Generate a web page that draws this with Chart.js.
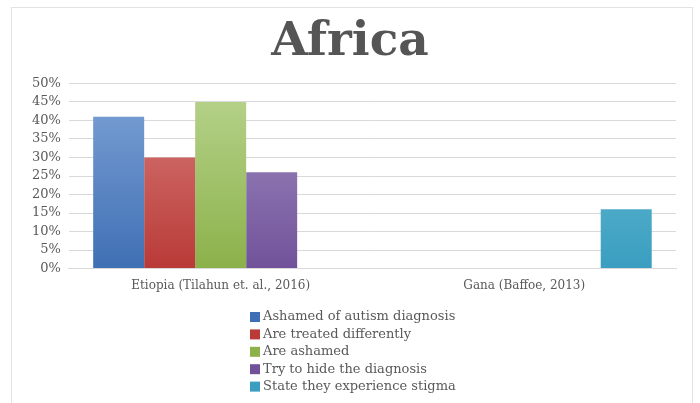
<!DOCTYPE html>
<html>
<head>
<meta charset="utf-8">
<script src="https://cdn.jsdelivr.net/npm/chart.js@4"></script>
<style>
  html, body { margin: 0; padding: 0; background: #fff; }
  #wrap { width: 700px; height: 403px; }
</style>
</head>
<body>
<div id="wrap"><canvas id="chart"></canvas></div>
<script>
const categories = ['Etiopia (Tilahun et. al., 2016)', 'Gana (Baffoe, 2013)'];
const seriesNames = [
  'Ashamed of autism diagnosis',
  'Are treated differently',
  'Are ashamed',
  'Try to hide the diagnosis',
  'State they experience stigma'
];
const ashamedDiagnosis = [41, null];
const treatedDifferently = [30, null];
const areAshamed = [45, null];
const hideDiagnosis = [26, null];
const experienceStigma = [null, 16];
const yTicks = [0, 5, 10, 15, 20, 25, 30, 35, 40, 45, 50];

// top and bottom colour of each bar's gradient
const palette = [
  ['#7ea3d6', '#3f6fb4'],
  ['#d77f7c', '#b93a37'],
  ['#b8d48e', '#8cb14a'],
  ['#a290c2', '#71529a'],
  ['#72c0d9', '#3a9ec0']
];

function barGradient(pair) {
  return ctx => {
    const area = ctx.chart.chartArea;
    if (!area) return pair[1];
    const g = ctx.chart.ctx.createLinearGradient(0, area.top, 0, area.bottom);
    g.addColorStop(0, pair[0]);
    g.addColorStop(1, pair[1]);
    return g;
  };
}

const values = [ashamedDiagnosis, treatedDifferently, areAshamed, hideDiagnosis, experienceStigma];
const datasets = values.map((v, i) => ({
  label: seriesNames[i],
  data: v,
  backgroundColor: barGradient(palette[i]),
  legendColor: palette[i][1],
  borderWidth: 0
}));

// light frame round the whole chart
const framePlugin = {
  id: 'frame',
  beforeDraw(chart) {
    const c = chart.ctx;
    c.save();
    c.strokeStyle = '#e3e3e3';
    c.lineWidth = 1;
    c.strokeRect(11.5, 7.5, 681, 400);
    c.restore();
  }
};

// legend drawn as a left-aligned column under the axis
const columnLegend = {
  id: 'columnLegend',
  afterDraw(chart) {
    const c = chart.ctx;
    c.save();
    c.font = '13px "DejaVu Serif"';
    c.textBaseline = 'middle';
    chart.data.datasets.forEach((ds, i) => {
      const y = 317 + i * 17.4;
      c.fillStyle = ds.legendColor;
      c.fillRect(250, y - 5, 10, 10);
      c.fillStyle = '#595959';
      c.fillText(ds.label, 263, y);
    });
    c.restore();
  }
};

new Chart(document.getElementById('chart'), {
  type: 'bar',
  data: { labels: categories, datasets: datasets },
  options: {
    responsive: true,
    maintainAspectRatio: false,
    animation: false,
    layout: { padding: { left: 24, right: 24, top: 8, bottom: 108 } },
    datasets: { bar: { categoryPercentage: 0.84, barPercentage: 1 } },
    plugins: {
      legend: { display: false },
      tooltip: { enabled: false },
      title: {
        display: true,
        text: 'Africa',
        color: '#555555',
        font: { family: 'DejaVu Serif', size: 47, weight: 'bold' },
        padding: { top: 7, bottom: 12 }
      }
    },
    scales: {
      x: {
        grid: { display: false },
        border: { color: '#d9d9d9' },
        ticks: { color: '#595959', font: { family: 'DejaVu Serif', size: 12 }, padding: 2 }
      },
      y: {
        min: 0,
        max: 50,
        afterBuildTicks: axis => { axis.ticks = yTicks.map(v => ({ value: v })); },
        grid: { color: '#d9d9d9', drawTicks: false },
        border: { display: false },
        ticks: {
          color: '#595959',
          font: { family: 'DejaVu Serif', size: 13 },
          padding: 8,
          autoSkip: false,
          callback: v => v + '%'
        }
      }
    }
  },
  plugins: [framePlugin, columnLegend]
});
</script>
</body>
</html>
